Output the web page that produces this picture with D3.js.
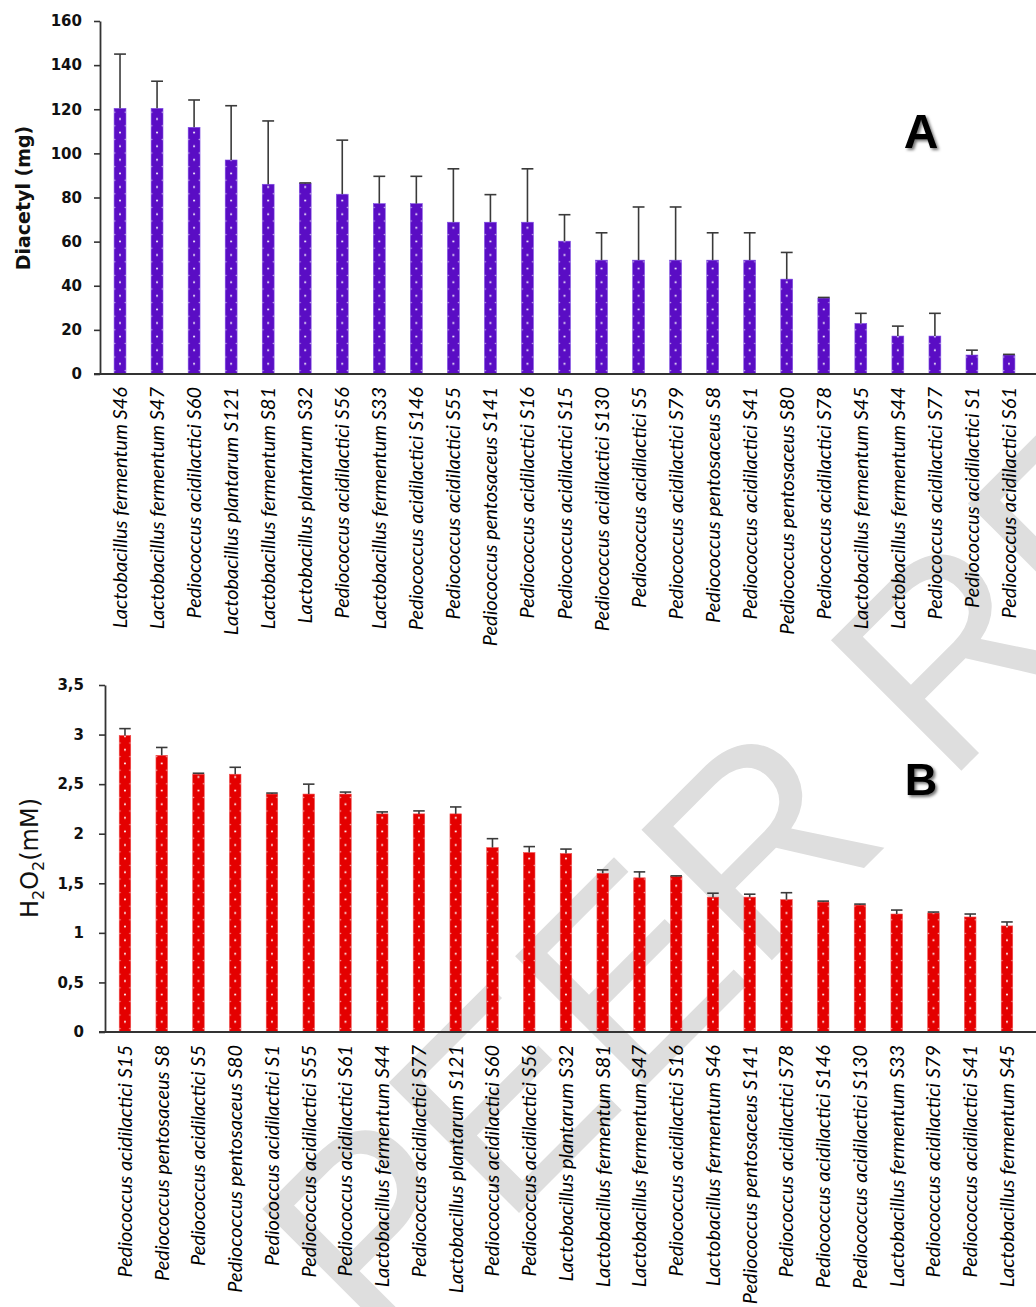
<!DOCTYPE html>
<html>
<head>
<meta charset="utf-8">
<script src="https://cdn.jsdelivr.net/npm/d3@7"></script>
<style>
  body { margin: 0; background: #fff; }
  svg { display: block; }
</style>
</head>
<body>
<div id="chart"></div>
<script>
// --- panel A : diacetyl ---
const diacetylStrains = [
  "Lactobacillus fermentum S46", "Lactobacillus fermentum S47", "Pediococcus acidilactici S60",
  "Lactobacillus plantarum S121", "Lactobacillus fermentum S81", "Lactobacillus plantarum S32",
  "Pediococcus acidilactici S56", "Lactobacillus fermentum S33", "Pediococcus acidilactici S146",
  "Pediococcus acidilactici S55", "Pediococcus pentosaceus S141", "Pediococcus acidilactici S16",
  "Pediococcus acidilactici S15", "Pediococcus acidilactici S130", "Pediococcus acidilactici S5",
  "Pediococcus acidilactici S79", "Pediococcus pentosaceus S8", "Pediococcus acidilactici S41",
  "Pediococcus pentosaceus S80", "Pediococcus acidilactici S78", "Lactobacillus fermentum S45",
  "Lactobacillus fermentum S44", "Pediococcus acidilactici S77", "Pediococcus acidilactici S1",
  "Pediococcus acidilactici S61"
];
const diacetylMean = [120.4, 120.4, 111.8, 97, 86, 86.3, 81.5, 77.2, 77.2, 68.8, 68.8, 68.8, 60.2,
  51.6, 51.6, 51.6, 51.6, 51.6, 43, 34.4, 22.9, 17.2, 17.2, 8.6, 8.6];
const diacetylErr = [24.6, 12.3, 12.4, 24.6, 28.7, 0.3, 24.5, 12.4, 12.4, 24.2, 12.5, 24.2, 12.0,
  12.4, 24.1, 24.1, 12.4, 12.4, 12.1, 0.3, 4.6, 4.5, 10.3, 2.2, 0.3];
const diacetylTicks = [0, 20, 40, 60, 80, 100, 120, 140, 160];

// --- panel B : H2O2 ---
const h2o2Strains = [
  "Pediococcus acidilactici S15", "Pediococcus pentosaceus S8", "Pediococcus acidilactici S5",
  "Pediococcus pentosaceus S80", "Pediococcus acidilactici S1", "Pediococcus acidilactici S55",
  "Pediococcus acidilactici S61", "Lactobacillus fermentum S44", "Pediococcus acidilactici S77",
  "Lactobacillus plantarum S121", "Pediococcus acidilactici S60", "Pediococcus acidilactici S56",
  "Lactobacillus plantarum S32", "Lactobacillus fermentum S81", "Lactobacillus fermentum S47",
  "Pediococcus acidilactici S16", "Lactobacillus fermentum S46", "Pediococcus pentosaceus S141",
  "Pediococcus acidilactici S78", "Pediococcus acidilactici S146", "Pediococcus acidilactici S130",
  "Lactobacillus fermentum S33", "Pediococcus acidilactici S79", "Pediococcus acidilactici S41",
  "Lactobacillus fermentum S45"
];
const h2o2Mean = [2.99, 2.79, 2.60, 2.60, 2.40, 2.40, 2.40, 2.20, 2.20, 2.20, 1.86, 1.81, 1.80,
  1.60, 1.555, 1.57, 1.36, 1.36, 1.335, 1.31, 1.28, 1.19, 1.20, 1.16, 1.07];
const h2o2Err = [0.07, 0.08, 0.01, 0.07, 0.01, 0.10, 0.02, 0.02, 0.03, 0.07, 0.09, 0.06, 0.045,
  0.035, 0.06, 0.005, 0.04, 0.03, 0.07, 0.01, 0.01, 0.04, 0.01, 0.03, 0.04];
const h2o2Ticks = [0, 0.5, 1, 1.5, 2, 2.5, 3, 3.5];

const width = 1036, height = 1307;

const svg = d3.select("#chart").append("svg")
  .attr("width", width)
  .attr("height", height);

const defs = svg.append("defs");
defs.append("filter").attr("id", "shadow")
  .attr("x", "-20%").attr("y", "-20%").attr("width", "160%").attr("height", "160%")
  .append("feDropShadow")
  .attr("dx", 2).attr("dy", 2).attr("stdDeviation", 1.6)
  .attr("flood-color", "#000").attr("flood-opacity", 0.55);

// watermark behind everything
svg.append("text")
  .attr("transform", "translate(672,1060) rotate(-45)")
  .attr("text-anchor", "middle")
  .attr("font-family", "Liberation Sans, Arial, sans-serif")
  .attr("font-size", 268)
  .attr("fill", "#dedede")
  .text("UNDER PEER REVIEW");

function drawPanel(cfg) {
  const g = svg.append("g");

  const x = d3.scaleBand()
    .domain(cfg.strains)
    .range([cfg.x0, cfg.x0 + cfg.strains.length * cfg.step])
    .paddingInner(cfg.pad)
    .paddingOuter(cfg.pad / 2);

  const y = d3.scaleLinear()
    .domain([0, cfg.max])
    .range([cfg.bottom, cfg.top]);

  const bw = x.bandwidth();

  // dotted fill, one tile per bar so the dots line up with each bar
  cfg.strains.forEach((s, i) => {
    const p = defs.append("pattern")
      .attr("id", cfg.id + "-dots-" + i)
      .attr("patternUnits", "userSpaceOnUse")
      .attr("x", x(s)).attr("y", cfg.bottom)
      .attr("width", bw).attr("height", 13.6);
    p.append("rect").attr("width", bw).attr("height", 13.6).attr("fill", cfg.color);
    p.append("circle").attr("cx", bw / 2).attr("cy", 3.4).attr("r", 1).attr("fill", "#fff");
    p.append("circle").attr("cx", 0.6).attr("cy", 10.2).attr("r", 0.8).attr("fill", "#fff").attr("opacity", 0.8);
    p.append("circle").attr("cx", bw - 0.6).attr("cy", 10.2).attr("r", 0.8).attr("fill", "#fff").attr("opacity", 0.8);
  });

  g.selectAll(".bar")
    .data(cfg.strains)
    .join("rect")
    .attr("class", "bar")
    .attr("x", d => x(d))
    .attr("y", (d, i) => y(cfg.mean[i]))
    .attr("width", bw)
    .attr("height", (d, i) => cfg.bottom - y(cfg.mean[i]))
    .attr("fill", (d, i) => `url(#${cfg.id}-dots-${i})`)
    .attr("stroke", cfg.edge)
    .attr("stroke-width", 0.6);

  // error bars (upper only)
  const err = g.selectAll(".err")
    .data(cfg.strains)
    .join("g")
    .attr("class", "err")
    .attr("stroke", "#3a3a3a")
    .attr("stroke-width", 1.6);
  err.append("line")
    .attr("x1", d => x(d) + bw / 2)
    .attr("x2", d => x(d) + bw / 2)
    .attr("y1", (d, i) => y(cfg.mean[i]))
    .attr("y2", (d, i) => y(cfg.mean[i] + cfg.err[i]));
  err.append("line")
    .attr("x1", d => x(d))
    .attr("x2", d => x(d) + bw)
    .attr("y1", (d, i) => y(cfg.mean[i] + cfg.err[i]))
    .attr("y2", (d, i) => y(cfg.mean[i] + cfg.err[i]));

  // y axis
  const yAxis = g.append("g")
    .attr("transform", `translate(${cfg.axisX},0)`)
    .call(d3.axisLeft(y).tickValues(cfg.ticks).tickSize(6).tickSizeOuter(0)
      .tickPadding(cfg.tickPad)
      .tickFormat(d => String(d).replace(".", ",")));
  yAxis.select(".domain").attr("stroke", "#333").attr("stroke-width", 1.8);
  yAxis.selectAll(".tick line").attr("stroke", "#333").attr("stroke-width", 1.6);
  yAxis.selectAll(".tick text")
    .attr("font-family", "DejaVu Sans, sans-serif")
    .attr("font-weight", "bold")
    .attr("font-size", 15)
    .attr("fill", "#111");

  // x axis with rotated strain names
  const xAxis = g.append("g")
    .attr("transform", `translate(0,${cfg.bottom})`)
    .call(d3.axisBottom(x).tickSize(0));
  xAxis.select(".domain").remove();
  xAxis.selectAll(".tick text")
    .attr("transform", "rotate(-90)")
    .attr("y", 0)
    .attr("x", -13)
    .attr("dy", "0.35em")
    .attr("text-anchor", "end")
    .attr("font-family", "Lato, sans-serif")
    .attr("font-style", "italic")
    .attr("font-size", 20)
    .attr("fill", "#000");
  g.append("line")
    .attr("x1", cfg.axisX - 6).attr("x2", width)
    .attr("y1", cfg.bottom).attr("y2", cfg.bottom)
    .attr("stroke", "#333").attr("stroke-width", 1.8);

  // panel letter
  g.append("text")
    .attr("x", 921).attr("y", cfg.letterY)
    .attr("text-anchor", "middle")
    .attr("font-family", "Liberation Sans, Arial, sans-serif")
    .attr("font-weight", "bold")
    .attr("font-size", cfg.letterSize)
    .attr("filter", "url(#shadow)")
    .text(cfg.letter);

  return g;
}

const gA = drawPanel({
  id: "a", strains: diacetylStrains, mean: diacetylMean, err: diacetylErr, ticks: diacetylTicks,
  max: 160, top: 21, bottom: 374, axisX: 100, x0: 101.5, step: 37.04, pad: 0.68, tickPad: 12,
  color: "#5a0dc4", edge: "#7d4be3", letter: "A", letterY: 148, letterSize: 48
});
gA.append("text")
  .attr("transform", "translate(30,198) rotate(-90)")
  .attr("text-anchor", "middle")
  .attr("font-family", "DejaVu Sans, sans-serif")
  .attr("font-weight", "bold")
  .attr("font-size", 19)
  .attr("fill", "#111")
  .text("Diacetyl (mg)");

const gB = drawPanel({
  id: "b", strains: h2o2Strains, mean: h2o2Mean, err: h2o2Err, ticks: h2o2Ticks,
  max: 3.5, top: 685, bottom: 1032, axisX: 105, x0: 106.6, step: 36.75, pad: 0.687, tickPad: 15,
  color: "#e40000", edge: "#f04a4a", letter: "B", letterY: 795, letterSize: 45
});
const yLabB = gB.append("text")
  .attr("transform", "translate(38,858) rotate(-90)")
  .attr("text-anchor", "middle")
  .attr("font-family", "DejaVu Sans, sans-serif")
  .attr("font-size", 24)
  .attr("fill", "#111");
yLabB.append("tspan").text("H");
yLabB.append("tspan").attr("font-size", 16).attr("dy", 6).text("2");
yLabB.append("tspan").attr("dy", -6).text("O");
yLabB.append("tspan").attr("font-size", 16).attr("dy", 6).text("2");
yLabB.append("tspan").attr("dy", -6).text("(mM)");
</script>
</body>
</html>
